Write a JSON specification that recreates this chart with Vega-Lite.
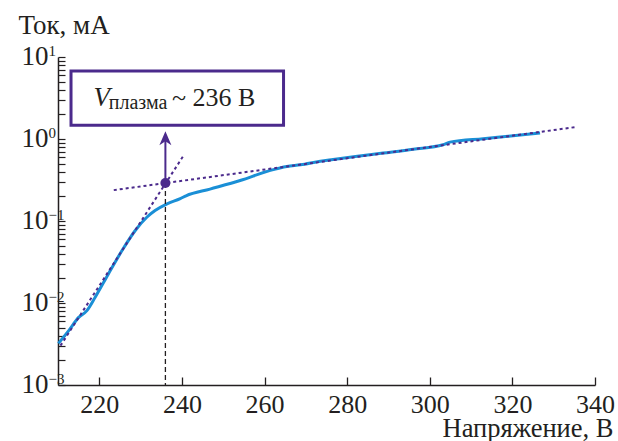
{
  "$schema": "https://vega.github.io/schema/vega-lite/v6.json",
  "width": 537,
  "height": 328,
  "autosize": {"type": "none"},
  "padding": {"left": 58, "top": 57, "right": 23, "bottom": 56},
  "background": "white",
  "config": {
    "view": {"stroke": null},
    "font": "Liberation Serif",
    "axis": {"grid": false, "labelFont": "Liberation Serif", "titleFont": "Liberation Serif", "labelColor": "#231f20", "titleColor": "#231f20", "titleFontWeight": "normal", "domainColor": "#231f20", "tickColor": "#231f20"}
  },
  "resolve": {"axis": {"x": "independent", "y": "independent"}},
  "layer": [
    {
      "data": {"values": [
        {"u": 210.1, "i": 0.00322}, {"u": 212.6, "i": 0.0046}, {"u": 215.0, "i": 0.00668},
        {"u": 217.0, "i": 0.00807}, {"u": 219.0, "i": 0.01175}, {"u": 222.2, "i": 0.02265},
        {"u": 225.5, "i": 0.0436}, {"u": 228.7, "i": 0.0766}, {"u": 231.5, "i": 0.111},
        {"u": 233.5, "i": 0.134}, {"u": 236.4, "i": 0.162}, {"u": 239.6, "i": 0.187},
        {"u": 241.0, "i": 0.203}, {"u": 246.8, "i": 0.245}, {"u": 254.1, "i": 0.312},
        {"u": 261.4, "i": 0.414}, {"u": 265.4, "i": 0.463}, {"u": 268.7, "i": 0.485},
        {"u": 273.5, "i": 0.537}, {"u": 276.6, "i": 0.563}, {"u": 282.0, "i": 0.61},
        {"u": 288.7, "i": 0.673}, {"u": 296.0, "i": 0.75}, {"u": 303.2, "i": 0.851},
        {"u": 304.9, "i": 0.916}, {"u": 312.9, "i": 1.01}, {"u": 319.0, "i": 1.08},
        {"u": 326.7, "i": 1.18}
      ]},
      "mark": {"type": "line", "color": "#1a8fd6", "strokeWidth": 3, "interpolate": "monotone"},
      "encoding": {
        "x": {"field": "u", "type": "quantitative",
          "scale": {"domain": [210, 340], "nice": false, "zero": false},
          "axis": {"orient": "bottom", "values": [220, 240, 260, 280, 300, 320, 340], "labels": false, "tickSize": -8, "tickWidth": 1.3, "domainWidth": 1.5,
            "title": "Напряжение, В", "titleFontSize": 26.5, "titleAnchor": null, "titleAlign": "right", "titleBaseline": "alphabetic", "titleX": 555, "titleY": 51}},
        "y": {"field": "i", "type": "quantitative",
          "scale": {"type": "log", "domain": [0.001, 10], "nice": false},
          "axis": {"orient": "left", "labels": false, "tickSize": -7, "tickWidth": 1.2, "domainWidth": 1.5,
            "values": [0.001, 0.002, 0.003, 0.004, 0.005, 0.006, 0.007, 0.008, 0.009, 0.01, 0.02, 0.03, 0.04, 0.05, 0.06, 0.07, 0.08, 0.09, 0.1, 0.2, 0.3, 0.4, 0.5, 0.6, 0.7, 0.8, 0.9, 1, 2, 3, 4, 5, 6, 7, 8, 9, 10],
            "title": "Ток, мА", "titleFontSize": 27, "titleAngle": 0, "titleAnchor": null, "titleAlign": "left", "titleBaseline": "alphabetic", "titleX": -40, "titleY": -24}}
      }
    },
    {
      "data": {"values": [
        {"u": 210.6, "i": 0.00302, "s": "a"}, {"u": 240.3, "i": 0.617, "s": "a"},
        {"u": 223.5, "i": 0.238, "s": "b"}, {"u": 335.4, "i": 1.40, "s": "b"}
      ]},
      "mark": {"type": "line", "color": "#4b2a8c", "strokeWidth": 2, "strokeDash": [3, 3]},
      "encoding": {
        "x": {"field": "u", "type": "quantitative",
          "axis": {"orient": "bottom", "values": [220, 240, 260, 280, 300, 320, 340], "ticks": false, "domain": false, "labelFontSize": 26, "labelPadding": 27, "labelBaseline": "alphabetic", "labelFlush": false, "labelOverlap": false, "title": null}},
        "y": {"field": "i", "type": "quantitative", "scale": {"type": "log"},
          "axis": {"orient": "left", "values": [0.001, 0.01, 0.1, 1, 10], "ticks": false, "domain": false, "labelExpr": "'10'", "labelFontSize": 27, "labelPadding": 10, "labelBaseline": "alphabetic", "labelOffset": 7.5, "labelFlush": false, "labelOverlap": false, "title": null}},
        "detail": {"field": "s"}
      }
    },
    {
      "data": {"values": [{"u": 236, "i": 0.29, "i2": 0.001}]},
      "mark": {"type": "rule", "color": "#231f20", "strokeWidth": 1.3, "strokeDash": [5, 3]},
      "encoding": {
        "x": {"field": "u", "type": "quantitative", "axis": null},
        "y": {"field": "i", "type": "quantitative", "scale": {"type": "log"},
          "axis": {"orient": "left", "values": [0.001, 0.01, 0.1, 1, 10], "ticks": false, "domain": false, "labelExpr": "replace(toString(round(log(datum.value)/LN10)), '-', '−')", "labelFontSize": 15, "labelAlign": "left", "labelPadding": 10, "labelBaseline": "alphabetic", "labelOffset": -1.5, "labelFlush": false, "labelOverlap": false, "title": null}},
        "y2": {"field": "i2"}
      }
    },
    {
      "data": {"values": [{"u": 236, "i": 0.29, "i2": 1.0}]},
      "mark": {"type": "rule", "color": "#4b2a8c", "strokeWidth": 2},
      "encoding": {
        "x": {"field": "u", "type": "quantitative", "axis": null},
        "y": {"field": "i", "type": "quantitative", "scale": {"type": "log"}, "axis": null},
        "y2": {"field": "i2"}
      }
    },
    {
      "data": {"values": [{"u": 236, "i": 1.02}]},
      "mark": {"type": "point", "filled": true, "color": "#4b2a8c", "opacity": 1, "size": 196, "shape": "M0,-1L0.86,1L0,0.43L-0.86,1Z"},
      "encoding": {
        "x": {"field": "u", "type": "quantitative", "axis": null},
        "y": {"field": "i", "type": "quantitative", "scale": {"type": "log"}, "axis": null}
      }
    },
    {
      "data": {"values": [{"u": 236, "i": 0.29}]},
      "mark": {"type": "circle", "color": "#4b2a8c", "opacity": 1, "size": 100},
      "encoding": {
        "x": {"field": "u", "type": "quantitative", "axis": null},
        "y": {"field": "i", "type": "quantitative", "scale": {"type": "log"}, "axis": null}
      }
    },
    {
      "data": {"values": [{"u": 213.15, "u2": 264.6, "i": 1.47, "i2": 6.75}]},
      "mark": {"type": "rect", "fill": "white", "stroke": "#4b2a8c", "strokeWidth": 3},
      "encoding": {
        "x": {"field": "u", "type": "quantitative", "axis": null},
        "x2": {"field": "u2"},
        "y": {"field": "i", "type": "quantitative", "scale": {"type": "log"}, "axis": null},
        "y2": {"field": "i2"}
      }
    },
    {
      "data": {"values": [{"u": 218.6, "i": 2.5, "t": "V"}]},
      "mark": {"type": "text", "font": "Liberation Serif", "fontStyle": "italic", "fontSize": 27, "align": "left", "baseline": "alphabetic", "color": "#231f20"},
      "encoding": {
        "x": {"field": "u", "type": "quantitative", "axis": null},
        "y": {"field": "i", "type": "quantitative", "scale": {"type": "log"}, "axis": null},
        "text": {"field": "t"}
      }
    },
    {
      "data": {"values": [{"u": 222.3, "i": 2.5, "t": "плазма"}]},
      "mark": {"type": "text", "font": "Liberation Serif", "fontSize": 20, "align": "left", "baseline": "alphabetic", "dy": 3, "color": "#231f20"},
      "encoding": {
        "x": {"field": "u", "type": "quantitative", "axis": null},
        "y": {"field": "i", "type": "quantitative", "scale": {"type": "log"}, "axis": null},
        "text": {"field": "t"}
      }
    },
    {
      "data": {"values": [{"u": 237.6, "i": 2.5, "t": "~ 236 В"}]},
      "mark": {"type": "text", "font": "Liberation Serif", "fontSize": 26, "align": "left", "baseline": "alphabetic", "color": "#231f20"},
      "encoding": {
        "x": {"field": "u", "type": "quantitative", "axis": null},
        "y": {"field": "i", "type": "quantitative", "scale": {"type": "log"}, "axis": null},
        "text": {"field": "t"}
      }
    }
  ]
}
